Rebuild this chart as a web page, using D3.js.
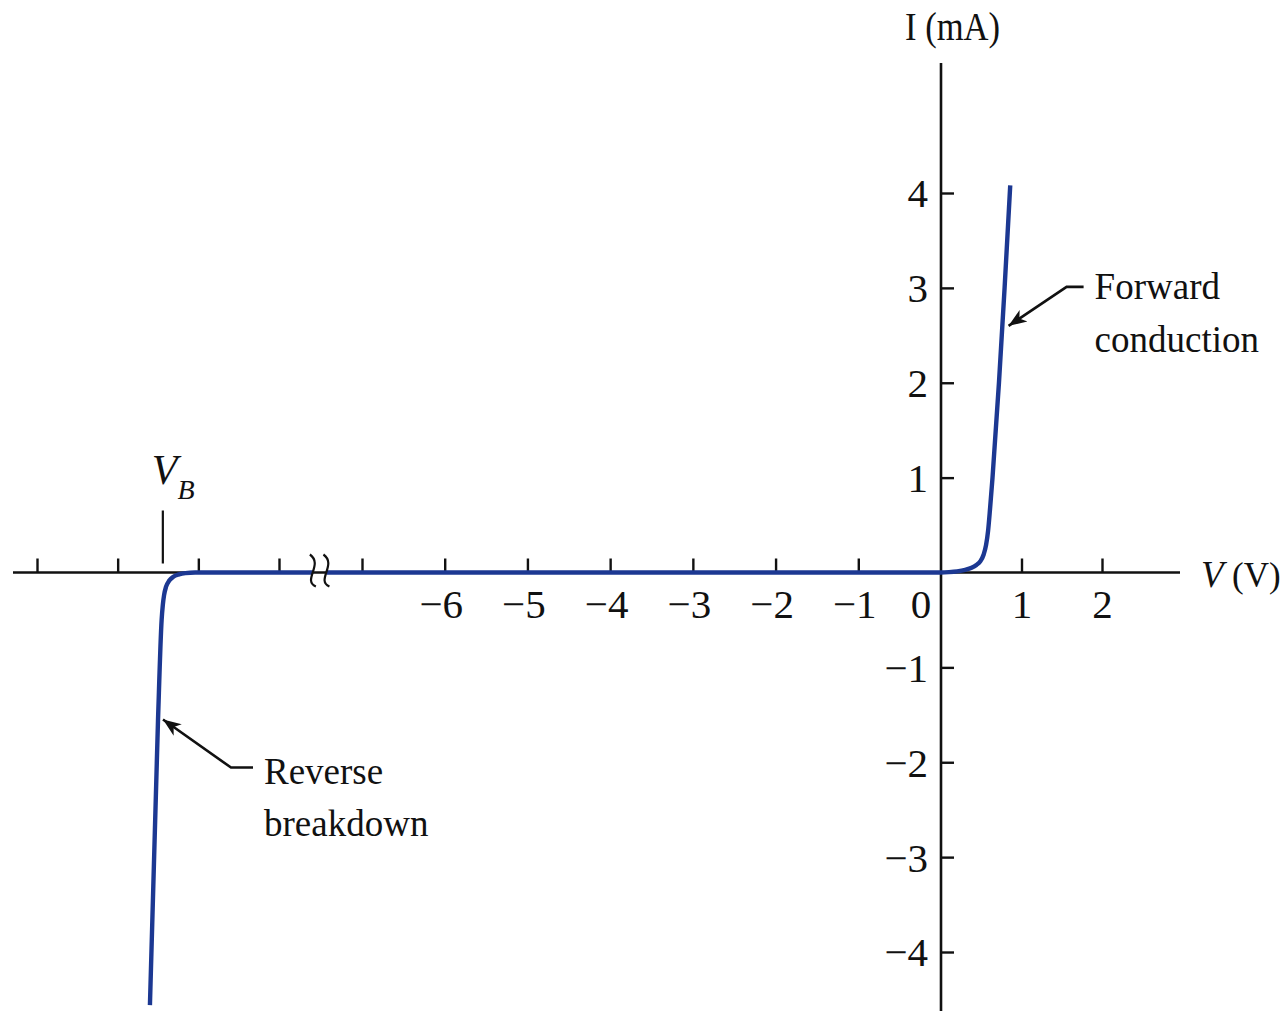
<!DOCTYPE html>
<html><head><meta charset="utf-8">
<script src="https://cdn.jsdelivr.net/npm/d3@7"></script>
<style>
html,body{margin:0;background:#fff;}
svg{display:block;font-family:"Liberation Serif","Times New Roman",serif;}
</style></head><body>
<svg id="chart" width="1285" height="1011"></svg>
<script>
// Current–voltage characteristic of a junction diode, with a broken voltage axis

const yTicks = [-4, -3, -2, -1, 1, 2, 3, 4];
const xTicks = [-7, -6, -5, -4, -3, -2, -1, 1, 2];
const farTicks = [0, 1, 2, 3];      // unlabelled ticks beyond the axis break
const vbPos = 1.56;                 // breakdown voltage V_B on the far segment
const breakFar = 3.42, breakMain = -7.43;

// forward-conduction branch: V (volts), I (mA)
const forwardV = [-7.43, 0, 0.1, 0.2, 0.3, 0.38, 0.44, 0.49, 0.53, 0.56, 0.585, 0.61, 0.64, 0.72, 0.79, 0.86];
const forwardI = [0, 0, 0.004, 0.012, 0.028, 0.05, 0.08, 0.12, 0.19, 0.29, 0.44, 0.68, 1.0, 2.0, 3.0, 4.08];

// reverse-breakdown branch: position on the far segment, I (mA)
const reverseU = [1.40, 1.50, 1.545, 1.56, 1.575, 1.60, 1.64, 1.69, 1.76, 1.84, 1.96, 3.42];
const reverseI = [-4.56, -1.56, -0.5, -0.34, -0.24, -0.15, -0.085, -0.045, -0.02, -0.006, 0, 0];

const svg = d3.select("#chart");
const x = d3.scaleLinear().domain([-7, 0, 2]).range([362, 941, 1102]);
const xFar = d3.scaleLinear().domain([0, 3]).range([37, 279]);
const y = d3.scaleLinear().domain([-4, 4]).range([952, 193]);

const ink = "#111";
const curveColor = "#1c3892";

// axis lines
svg.append("line").attr("x1", 13).attr("x2", 1180).attr("y1", y(0)).attr("y2", y(0))
  .attr("stroke", ink).attr("stroke-width", 2.6);
svg.append("line").attr("x1", x(0)).attr("x2", x(0)).attr("y1", 63).attr("y2", 1011)
  .attr("stroke", ink).attr("stroke-width", 2.6);

function styleAxis(g) {
  g.select(".domain").remove();
  g.selectAll(".tick line").attr("stroke", ink).attr("stroke-width", 2.4);
  g.selectAll(".tick text").attr("fill", ink).attr("font-size", 41)
    .attr("font-family", '"Liberation Serif", serif');
}

// current axis
svg.append("g").attr("transform", `translate(${x(0)},0)`)
  .call(d3.axisLeft(y).tickValues(yTicks).tickSize(-13).tickPadding(13)
    .tickFormat(d3.format("d")))
  .call(styleAxis)
  .call(g => g.selectAll(".tick text").attr("dy", "0.34em"));

// voltage axis, main segment
svg.append("g").attr("transform", `translate(0,${y(0)})`)
  .call(d3.axisBottom(x).tickValues(xTicks).tickSize(-14)
    .tickFormat(d => d === -7 ? "" : d3.format("d")(d)))
  .call(styleAxis)
  .call(g => g.selectAll(".tick text").attr("y", 45).attr("dy", 0)
    .attr("x", d => d < 0 ? -4 : 0));

svg.append("text").attr("x", x(0) - 20).attr("y", y(0) + 45)
  .attr("text-anchor", "middle").attr("font-size", 41).attr("fill", ink).text("0");

// voltage axis, far segment
svg.append("g").attr("transform", `translate(0,${y(0)})`)
  .call(d3.axisBottom(xFar).tickValues(farTicks).tickSize(-14).tickFormat(""))
  .call(styleAxis);

// V_B marker
svg.append("line").attr("x1", xFar(vbPos)).attr("x2", xFar(vbPos))
  .attr("y1", y(0) - 62).attr("y2", y(0) - 9).attr("stroke", ink).attr("stroke-width", 2.2);
const vb = svg.append("text").attr("x", xFar(vbPos) - 11).attr("y", y(0) - 89)
  .attr("font-size", 42).attr("fill", ink);
vb.append("tspan").attr("font-style", "italic").text("V");
vb.append("tspan").attr("font-style", "italic").attr("font-size", 28).attr("dy", 15).text("B");

// curves
const line = d3.line().curve(d3.curveMonotoneX);
svg.append("path")
  .attr("d", line(forwardV.map((v, i) => [x(v), y(forwardI[i])])))
  .attr("fill", "none").attr("stroke", curveColor).attr("stroke-width", 4.4);
svg.append("path")
  .attr("d", line(reverseU.map((u, i) => [xFar(u), y(reverseI[i])])))
  .attr("fill", "none").attr("stroke", curveColor).attr("stroke-width", 4.4);

// axis break marks
[xFar(breakFar), x(breakMain)].forEach(bx => {
  svg.append("path")
    .attr("d", `M${bx - 3},${y(0) - 18} C${bx + 11},${y(0) - 8} ${bx - 11},${y(0) + 8} ${bx + 3},${y(0) + 14}`)
    .attr("fill", "none").attr("stroke", ink).attr("stroke-width", 2.2);
});

// axis titles
svg.append("text").attr("x", 905).attr("y", 40)
  .attr("textLength", 95).attr("lengthAdjust", "spacingAndGlyphs")
  .attr("font-size", 40).attr("fill", ink).text("I (mA)");
svg.append("text").attr("x", 1201).attr("y", y(0) + 14)
  .attr("font-size", 37).attr("font-style", "italic").attr("fill", ink).text("V");
svg.append("text").attr("x", 1232).attr("y", y(0) + 14)
  .attr("font-size", 35).attr("fill", ink).text("(V)");

// annotations
const defs = svg.append("defs");
defs.append("marker").attr("id", "head").attr("viewBox", "-18 -8 20 16")
  .attr("refX", 0).attr("refY", 0).attr("markerWidth", 20).attr("markerHeight", 16)
  .attr("markerUnits", "userSpaceOnUse").attr("orient", "auto")
  .append("path").attr("d", "M0,0 L-18,-7 L-13,0 L-18,7 Z").attr("fill", ink);

const fTip = [x(0.79) + 4, y(2.6)];
svg.append("path")
  .attr("d", d3.line()([[fTip[0] + 75, fTip[1] - 39], [fTip[0] + 58, fTip[1] - 39], fTip]))
  .attr("fill", "none").attr("stroke", ink).attr("stroke-width", 2.6).attr("marker-end", "url(#head)");
svg.append("text").attr("x", fTip[0] + 86).attr("y", fTip[1] - 27)
  .attr("font-size", 37).attr("fill", ink).text("Forward");
svg.append("text").attr("x", fTip[0] + 86).attr("y", fTip[1] + 26)
  .attr("font-size", 37).attr("fill", ink).text("conduction");

const rTip = [xFar(1.5) + 5, y(-1.55)];
svg.append("path")
  .attr("d", d3.line()([[rTip[0] + 90, rTip[1] + 48], [rTip[0] + 68, rTip[1] + 48], rTip]))
  .attr("fill", "none").attr("stroke", ink).attr("stroke-width", 2.6).attr("marker-end", "url(#head)");
svg.append("text").attr("x", rTip[0] + 101).attr("y", rTip[1] + 64)
  .attr("font-size", 37).attr("fill", ink).text("Reverse");
svg.append("text").attr("x", rTip[0] + 101).attr("y", rTip[1] + 116)
  .attr("font-size", 37).attr("fill", ink).text("breakdown");
</script>
</body></html>
